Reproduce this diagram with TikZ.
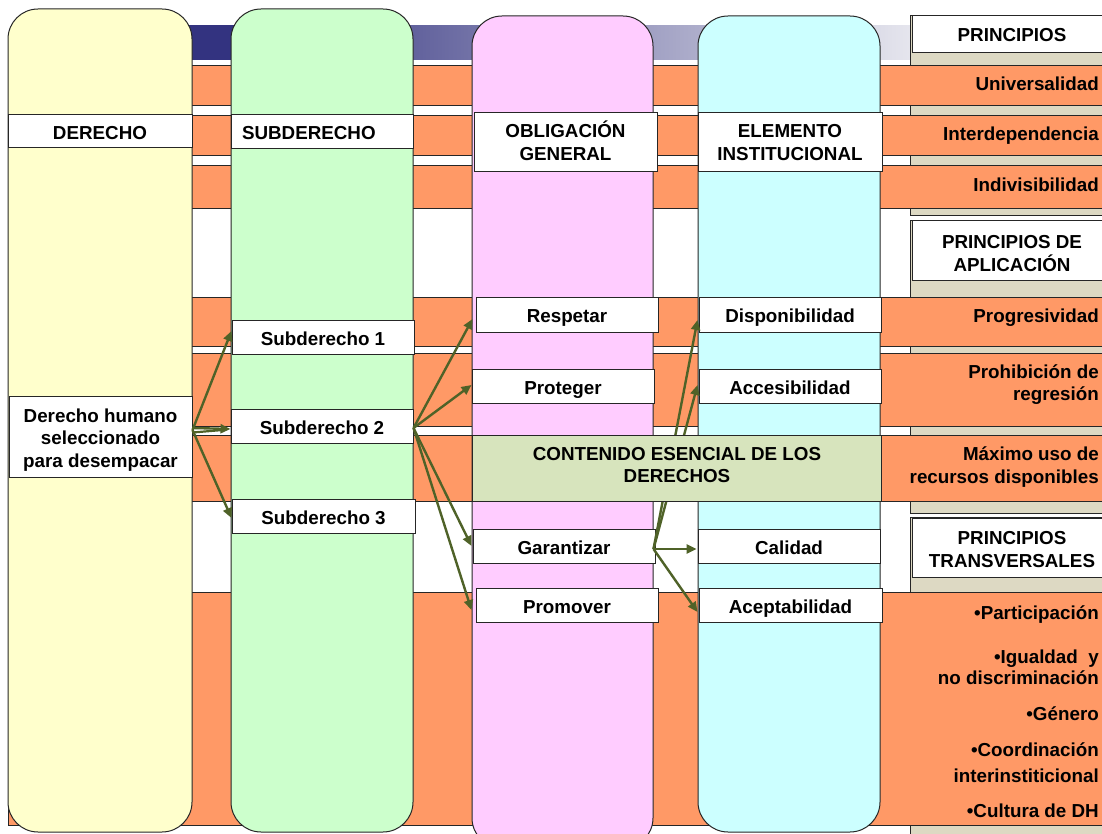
\documentclass[tikz,border=0pt]{standalone}
\usepackage{fontspec}
\setmainfont{Liberation Sans}
\usetikzlibrary{arrows.meta,calc}
\definecolor{colY}{HTML}{FFFFCC}
\definecolor{colG}{HTML}{CCFFCC}
\definecolor{colP}{HTML}{FFCCFF}
\definecolor{colC}{HTML}{CCFFFF}
\definecolor{colO}{HTML}{FF9966}
\definecolor{colK}{HTML}{D7E4BD}
\definecolor{colB}{HTML}{DDD9C3}
\definecolor{colA}{HTML}{4F6228}
\definecolor{colE}{HTML}{262626}
\definecolor{barL}{HTML}{C8C8E6}
\definecolor{barD}{HTML}{333380}
\definecolor{barW}{HTML}{F0F0F4}
\pgfdeclarehorizontalshading{barshade}{100bp}{color(0bp)=(barL); color(25bp)=(barL); color(32bp)=(barD); color(35bp)=(barD); color(68bp)=(barW); color(100bp)=(barW)}
\begin{document}
\begin{tikzpicture}[x=1pt,y=-1pt,
  every node/.style={font=\fontsize{18.8}{22}\selectfont\bfseries, inner sep=0pt},
  col/.style={draw=colE, line width=1pt, rounded corners=30pt},
  band/.style={fill=colO, draw=colE, line width=0.8pt},
  panel/.style={fill=colB, draw=colE, line width=0.8pt},
  wbox/.style={draw=colE, fill=white, line width=1pt, text height=16pt, text depth=0pt},
  lbl/.style={anchor=base},
  rlbl/.style={anchor=base east},
  arr/.style={draw=colA, line width=2.4pt, -{Triangle[length=10pt,width=9pt]}},
  arrl/.style={draw=colA, line width=2.2pt}]
\useasboundingbox (0,0) rectangle (1102,834);
\clip (0,0) rectangle (1102,834);
\fill[white] (0,0) rectangle (1102,834);
% title bar
\shade[shading=barshade] (18,26) rectangle (1102,60);
% right panels
\draw[panel] (910,15) rectangle (1112,215);
\draw[panel] (910,220) rectangle (1112,513);
\draw[panel] (910,517) rectangle (1112,850);
\node[wbox, minimum width=200pt, minimum height=37pt] (h1) at (1012,34) {PRINCIPIOS};
\node[wbox, minimum width=200pt, minimum height=59pt] (h2) at (1012,250.5) {};
\node[lbl] (h2a) at (1012,248) {PRINCIPIOS DE};
\node[lbl] (h2b) at (1012,271) {APLICACIÓN};
\node[wbox, minimum width=200pt, minimum height=59pt] (h3) at (1012,547.5) {};
\node[lbl] (h3a) at (1012,544) {PRINCIPIOS};
\node[lbl] (h3b) at (1012,567) {TRANSVERSALES};
% bands
\draw[band] (8,65) rectangle (1112,105);
\draw[band] (8,115) rectangle (1112,155);
\draw[band] (8,165) rectangle (1112,208);
\draw[band] (8,297) rectangle (1112,346);
\draw[band] (8,353) rectangle (1112,426);
\draw[band] (8,435) rectangle (1112,501);
\draw[band] (8,592) rectangle (1112,825);
\node[rlbl] (p1) at (1099,91) {Universalidad};
\node[rlbl] (p2) at (1099,141) {Interdependencia};
\node[rlbl] (p3) at (1099,192) {Indivisibilidad};
\node[rlbl] (p4) at (1099,322) {Progresividad};
\node[rlbl] (p5a) at (1099,378) {Prohibición de};
\node[rlbl] (p5b) at (1099,400) {regresión};
\node[rlbl] (p6a) at (1099,460) {Máximo uso de};
\node[rlbl] (p6b) at (1099,483) {recursos disponibles};
\node[rlbl] (t1) at (1099,619) {•Participación};
\node[rlbl] (t2a) at (1099,663) {•Igualdad\ \ y};
\node[rlbl] (t2b) at (1099,684) {no discriminación};
\node[rlbl] (t3) at (1099,720) {•Género};
\node[rlbl] (t4a) at (1099,756) {•Coordinación};
\node[rlbl] (t4b) at (1099,782) {interinstiticional};
\node[rlbl] (t5) at (1099,817) {•Cultura de DH};
% columns
\draw[col, fill=colY] (8,9) rectangle (192,832);
\draw[col, fill=colG] (231,9) rectangle (413,832);
\draw[col, fill=colP] (472,16) rectangle (653,848);
\draw[col, fill=colC] (698,16) rectangle (880,832);
% header boxes
\node[wbox, minimum width=184pt, minimum height=33pt] (derecho) at (100,131.5) {DERECHO};
\node[wbox, minimum height=34pt, text width=160pt, inner xsep=11pt, align=left] (subderecho) at (322,132) {SUBDERECHO};
\node[wbox, minimum width=183pt, minimum height=59pt] (oblig) at (565.5,142.5) {};
\node[lbl] (obligA) at (565.5,138) {OBLIGACIÓN};
\node[lbl] (obligB) at (565.5,161) {GENERAL};
\node[wbox, minimum width=184pt, minimum height=59pt] (elem) at (790,142.5) {};
\node[lbl] (elemA) at (790,138) {ELEMENTO};
\node[lbl] (elemB) at (790,161) {INSTITUCIONAL};
% content boxes
\node[wbox, minimum width=183pt, minimum height=81pt] (dh) at (100.5,436.5) {};
\node[lbl] (dha) at (100.5,422) {Derecho humano};
\node[lbl] (dhb) at (100.5,444) {seleccionado};
\node[lbl] (dhc) at (100.5,467) {para desempacar};
\node[wbox, minimum width=182pt, minimum height=34pt] (sub1) at (323,337) {Subderecho 1};
\node[wbox, minimum width=182pt, minimum height=34pt] (sub2) at (322,426) {Subderecho 2};
\node[wbox, minimum width=183pt, minimum height=34pt] (sub3) at (323.5,516) {Subderecho 3};
\node[wbox, minimum width=182pt, minimum height=35pt] (respetar) at (567,314.5) {Respetar};
\node[wbox, minimum width=182pt, minimum height=34pt] (proteger) at (563,386) {Proteger};
\node[wbox, minimum width=182pt, minimum height=34pt] (garantizar) at (564,546) {Garantizar};
\node[wbox, minimum width=182pt, minimum height=34pt] (promover) at (567,605) {Promover};
\node[wbox, minimum width=182pt, minimum height=35pt] (dispon) at (790,314.5) {Disponibilidad};
\node[wbox, minimum width=182pt, minimum height=34pt] (acces) at (790,386) {Accesibilidad};
\node[wbox, minimum width=182pt, minimum height=34pt] (calidad) at (789,546) {Calidad};
\node[wbox, minimum width=183pt, minimum height=34pt] (acept) at (790.5,605) {Aceptabilidad};
% arrows
\draw[arr] ([yshift=6.5pt]dh.east) -- ([yshift=6pt]sub1.west);
\draw[arr] ([yshift=8.5pt]dh.east) -- ([yshift=-3pt]sub2.west);
\draw[arrl] ([yshift=4pt]dh.east) -- ([shift={(-8pt,-4pt)}]sub2.west);
\draw[arr] ([yshift=6.5pt]dh.east) -- ([yshift=-2pt]sub3.west);
\draw[arr] ([yshift=-2pt]sub2.east) -- ([shift={(-3pt,-4.5pt)}]respetar.west);
\draw[arr] ([yshift=-2pt]sub2.east) -- ([yshift=1pt]proteger.west);
\draw[arr] ([yshift=-2pt]sub2.east) -- ([xshift=-1pt]garantizar.west);
\draw[arr] ([yshift=-2pt]sub2.east) -- ([shift={(-4pt,-5pt)}]promover.west);
\draw[arr] ([shift={(-2pt,-3pt)}]garantizar.east) -- ([shift={(-1pt,-5.5pt)}]dispon.west);
\draw[arr] ([shift={(-2pt,-3pt)}]garantizar.east) -- ([shift={(-1pt,1pt)}]acces.west);
\draw[arr] ([shift={(-2pt,-3pt)}]garantizar.east) -- ([shift={(-1pt,-3pt)}]calidad.west);
\draw[arr] ([shift={(-2pt,-3pt)}]garantizar.east) -- ([shift={(-1pt,-7pt)}]acept.west);
% essential content box on top
\node[wbox, fill=colK, minimum width=409pt, minimum height=66pt] (contenido) at (676.5,468) {};
\node[lbl] (conta) at (677,460) {CONTENIDO ESENCIAL DE LOS};
\node[lbl] (contb) at (677,482) {DERECHOS};
\end{tikzpicture}
\end{document}
